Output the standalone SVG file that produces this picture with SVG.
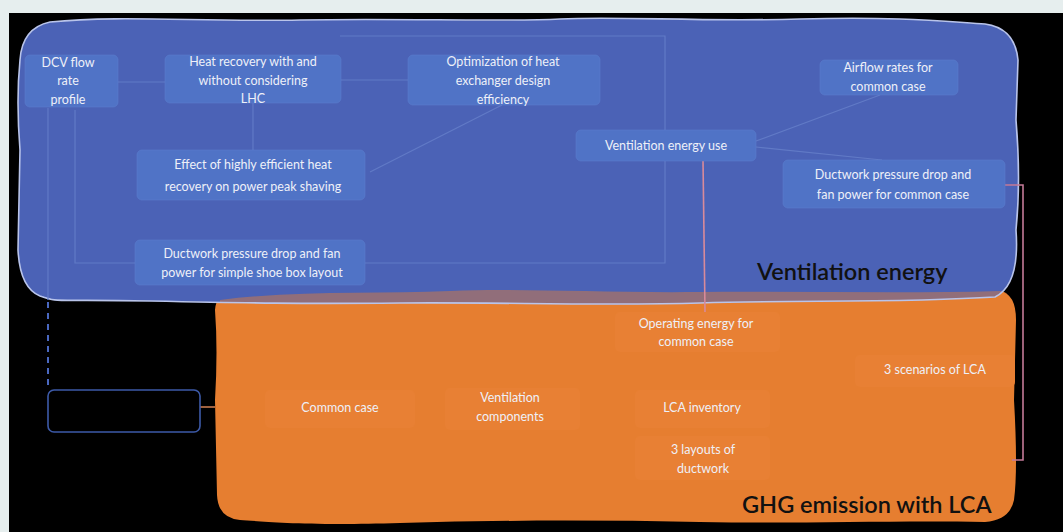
<svg xmlns="http://www.w3.org/2000/svg" width="1063" height="532" viewBox="0 0 1063 532">
  <defs>
    <style>
      .node rect.blue { fill: #5073c6; stroke: #5a7dcc; stroke-width: 0.6; }
      .node rect.orange { fill: #e88034; stroke: none; }
      .node text { font-family: Lato, "Liberation Sans", sans-serif; font-size: 12.5px; fill: #eef0f8; text-anchor: middle; }
      .faint { stroke: #617ac6; stroke-width: 1.2; fill: none; }
      .pink { stroke: #d88a9a; stroke-width: 1.6; fill: none; }
      .title { font-family: Lato, "Liberation Sans", sans-serif; font-size: 23.5px; font-weight: 600; fill: #111111; }
    </style>
  </defs>

  <!-- page background and dark panel -->
  <rect x="0" y="0" width="1063" height="532" fill="#e6eeee"/>
  <rect x="9" y="13" width="1054" height="519" fill="#000000"/>

  <!-- orange area: GHG emission with LCA -->
  <path id="area-ghg" d="M 235,292 C 300,290 380,294 450,291 S 600,293 700,292 S 900,294 1000,291 Q 1016,294 1016,320 L 1014,400 Q 1018,470 1014,500 Q 1010,520 985,522 C 900,520 800,524 700,522 S 500,520 400,523 S 260,521 240,520 Q 218,518 217,495 L 215,400 Q 218,350 215,310 Q 216,293 235,292 Z" fill="#e67e30"/>

  <!-- blue area: Ventilation energy -->
  <path id="area-vent" d="M 50,22 C 120,15 200,22 300,20 S 500,22 560,19 S 700,22 800,19 S 950,22 985,24 Q 1015,28 1018,60 L 1016,120 Q 1021,180 1016,230 Q 1020,285 995,297 C 900,303 800,300 700,303 S 500,302 400,303 S 250,303 150,301 S 60,303 40,296 Q 20,288 18,250 L 20,150 Q 16,100 20,60 Q 22,28 50,22 Z" fill="#4b62b6"/>

  <!-- overlap band where the two areas meet -->
  <path d="M 220,300 C 300,290 380,294 450,291 S 600,293 700,292 S 900,294 1000,291 Q 1012,293 1004,298 C 900,303 800,300 700,303 S 500,302 400,303 S 250,303 220,302 Z" fill="#e67e30" fill-opacity="0.45"/>

  <!-- blue area outline -->
  <path d="M 50,22 C 120,15 200,22 300,20 S 500,22 560,19 S 700,22 800,19 S 950,22 985,24 Q 1015,28 1018,60 L 1016,120 Q 1021,180 1016,230 Q 1020,285 995,297 C 900,303 800,300 700,303 S 500,302 400,303 S 250,303 150,301 S 60,303 40,296 Q 20,288 18,250 L 20,150 Q 16,100 20,60 Q 22,28 50,22 Z" fill="none" stroke="#b9c4ea" stroke-width="1.6"/>

  <!-- connectors -->
  <g id="connectors">
    <path class="faint" d="M 75,110 L 75,263 L 665,263 L 665,36 L 340,36"/>
    <path class="faint" d="M 48,108 L 48,300"/>
    <path class="faint" d="M 118,82 L 165,82"/>
    <path class="faint" d="M 340,80 L 408,80"/>
    <path class="faint" d="M 253,103 L 253,150"/>
    <path class="faint" d="M 370,172 L 502,105"/>
    <path class="faint" d="M 756,141 L 880,95"/>
    <path class="faint" d="M 756,147 L 882,160"/>
    <path class="pink" d="M 703,160 L 705,312"/>
    <path d="M 1005,185 L 1023,185 L 1023,460 L 1012,460" fill="none" stroke="#c47a98" stroke-width="1.6"/>
    <path d="M 48,302 L 48,390" fill="none" stroke="#4a68c0" stroke-width="2" stroke-dasharray="6,5"/>
    <path d="M 200,407 L 215,407" fill="none" stroke="#c87a50" stroke-width="1.6"/>
  </g>

  <!-- empty linked box -->
  <g id="node-empty">
    <rect x="48" y="390" width="152" height="42" rx="6" fill="#000000" stroke="#3d5aa8" stroke-width="1.6"/>
  </g>

  <!-- ventilation energy nodes -->
  <g id="node-dcv" class="node">
    <rect class="blue" x="25" y="55" width="93" height="52" rx="5"/>
    <text x="68" y="67">DCV flow</text>
    <text x="68" y="85">rate</text>
    <text x="68" y="104">profile</text>
  </g>
  <g id="node-heat-recovery" class="node">
    <rect class="blue" x="165" y="55" width="176" height="48" rx="5"/>
    <text x="253" y="66">Heat recovery with and</text>
    <text x="253" y="85">without considering</text>
    <text x="253" y="103">LHC</text>
  </g>
  <g id="node-optimization" class="node">
    <rect class="blue" x="408" y="55" width="192" height="50" rx="5"/>
    <text x="503" y="66">Optimization of heat</text>
    <text x="503" y="85">exchanger design</text>
    <text x="503" y="104">efficiency</text>
  </g>
  <g id="node-airflow" class="node">
    <rect class="blue" x="820" y="60" width="138" height="35" rx="5"/>
    <text x="888" y="72">Airflow rates for</text>
    <text x="888" y="91">common case</text>
  </g>
  <g id="node-vent-use" class="node">
    <rect class="blue" x="576" y="130" width="180" height="31" rx="5"/>
    <text x="666" y="150">Ventilation energy use</text>
  </g>
  <g id="node-effect" class="node">
    <rect class="blue" x="137" y="150" width="228" height="50" rx="5"/>
    <text x="253" y="169">Effect of highly efficient heat</text>
    <text x="253" y="191">recovery on power peak shaving</text>
  </g>
  <g id="node-duct-common" class="node">
    <rect class="blue" x="783" y="160" width="222" height="48" rx="5"/>
    <text x="893" y="179">Ductwork pressure drop and</text>
    <text x="893" y="199">fan power for common case</text>
  </g>
  <g id="node-duct-simple" class="node">
    <rect class="blue" x="135" y="240" width="230" height="45" rx="5"/>
    <text x="252" y="258">Ductwork pressure drop and fan</text>
    <text x="252" y="277">power for simple shoe box layout</text>
  </g>

  <!-- GHG emission nodes -->
  <g id="node-operating" class="node">
    <rect class="orange" x="615" y="312" width="165" height="40" rx="5"/>
    <text x="696" y="328">Operating energy for</text>
    <text x="696" y="346">common case</text>
  </g>
  <g id="node-scenarios" class="node">
    <rect class="orange" x="855" y="355" width="160" height="32" rx="5"/>
    <text x="935" y="374">3 scenarios of LCA</text>
  </g>
  <g id="node-common" class="node">
    <rect class="orange" x="265" y="390" width="150" height="38" rx="5"/>
    <text x="340" y="412">Common case</text>
  </g>
  <g id="node-components" class="node">
    <rect class="orange" x="445" y="388" width="135" height="42" rx="5"/>
    <text x="510" y="402">Ventilation</text>
    <text x="510" y="421">components</text>
  </g>
  <g id="node-inventory" class="node">
    <rect class="orange" x="635" y="390" width="135" height="38" rx="5"/>
    <text x="702" y="412">LCA inventory</text>
  </g>
  <g id="node-layouts" class="node">
    <rect class="orange" x="635" y="436" width="135" height="44" rx="5"/>
    <text x="703" y="454">3 layouts of</text>
    <text x="703" y="473">ductwork</text>
  </g>

  <!-- area titles -->
  <text class="title" x="757" y="280">Ventilation energy</text>
  <text class="title" x="742" y="513">GHG emission with LCA</text>
</svg>
